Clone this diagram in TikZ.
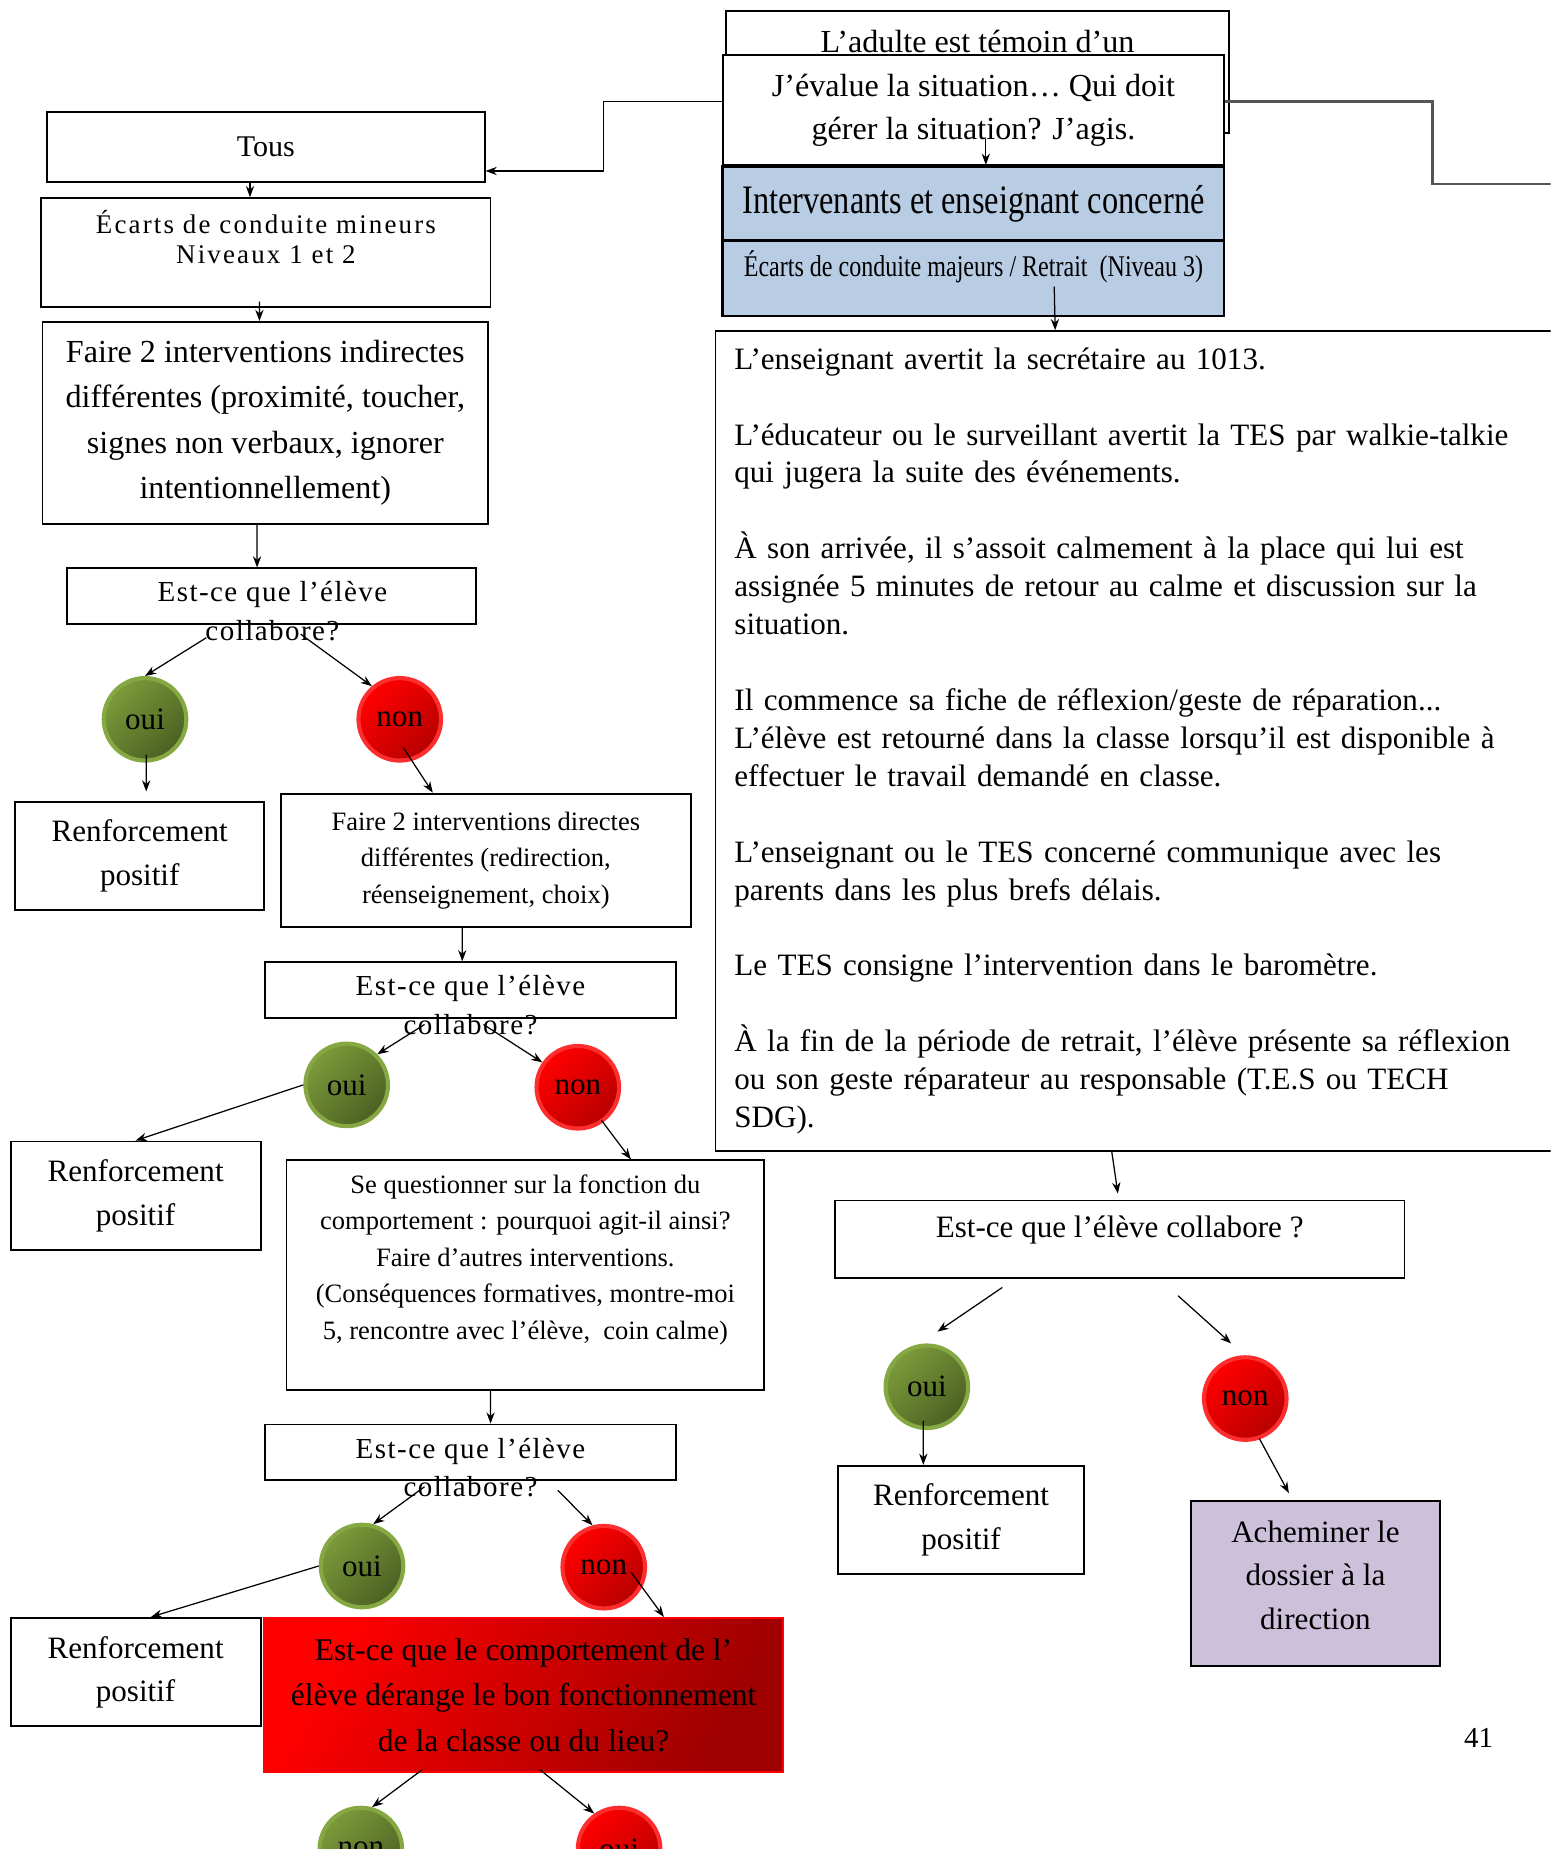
\documentclass[tikz,border=0pt]{standalone}
\usepackage{fontspec}
\setmainfont{Liberation Serif}
\newfontfamily\etroite[FakeStretch=0.8]{Liberation Serif}
\newfontfamily\espacee[LetterSpace=5]{Liberation Serif}
\newfontfamily\tresespacee[LetterSpace=8]{Liberation Serif}
\usetikzlibrary{arrows.meta}

\definecolor{bleuPale}{HTML}{B8CCE4}
\definecolor{lavande}{HTML}{CCC0DA}
\definecolor{vertClair}{HTML}{7C9B3A}
\definecolor{vertFonce}{HTML}{4B6023}
\definecolor{vertBord}{HTML}{86A843}
\definecolor{rougeClair}{HTML}{FF0000}
\definecolor{rougeFonce}{HTML}{B80000}
\definecolor{rougeBord}{HTML}{FF2E2E}
\definecolor{rougeBoite}{HTML}{9E0000}
\definecolor{gris}{HTML}{555555}

\begin{document}
\begin{tikzpicture}[x=0.2mm, y=-0.2mm,
    boite/.style={draw=black, line width=0.9pt, fill=white, inner sep=1mm, align=center, font=\fontsize{15}{21}\selectfont},
    bleue/.style={boite, fill=bleuPale, line width=1.4pt, minimum width=85mm},
    question/.style={boite, minimum width=69.6mm, minimum height=9.4mm},
    questionT/.style={align=center, font=\espacee\fontsize{14}{18.7}\selectfont},
    renfort/.style={boite, minimum width=42.2mm, minimum height=18.4mm},
    fleche/.style={-{Stealth[length=1.9mm,width=1.4mm]}, line width=0.6pt},
    pastilleVerte/.style={circle, minimum size=14mm, inner sep=0pt, draw=vertBord, line width=0.7mm, top color=vertClair, bottom color=vertFonce, shading angle=45, font=\fontsize{15}{18}\selectfont},
    pastilleRouge/.style={circle, minimum size=14mm, inner sep=0pt, draw=rougeBord, line width=0.7mm, top color=rougeClair, bottom color=rougeFonce, shading angle=45, font=\fontsize{15}{18}\selectfont}
  ]
  \clip (0,0) rectangle (1315,1568);

  % cadres du haut
  \node[boite, minimum width=85.2mm, minimum height=20.8mm] (adulte) at (829,61) {};
  \node[font=\fontsize{15.5}{18}\selectfont] (adulteT) at (829,35) {L’adulte est témoin d’un};
  \node[boite, minimum width=85mm, minimum height=18.6mm, font=\fontsize{15.5}{21}\selectfont] (jeval) at (825.5,93.5) {J’évalue la situation… Qui doit\\gérer la situation? J’agis.};
  \node[bleue, minimum height=12.6mm, font=\etroite\fontsize{19.5}{22}\selectfont] (interv) at (825.5,172.5) {Intervenants et enseignant concerné};
  \node[bleue, minimum height=12.8mm, text depth=4.9mm, font=\etroite\fontsize{14.5}{17}\selectfont] (majeurs) at (825.5,236) {Écarts de conduite majeurs / Retrait~~(Niveau 3)};

  % colonne de gauche
  \node[boite, minimum width=74.2mm, minimum height=11.8mm, font=\fontsize{14.5}{18}\selectfont] (tous) at (225.5,124.5) {Tous};
  \node[boite, minimum width=76.2mm, minimum height=18.4mm, font=\tresespacee\fontsize{13}{14.7}\selectfont] (mineurs) at (225.5,214) {Écarts de conduite mineurs\\Niveaux 1 et 2\\\mbox{}};
  \node[boite, minimum width=75.6mm, minimum height=34.2mm, font=\fontsize{15.5}{22}\selectfont] (indir) at (225,358.5) {Faire 2 interventions indirectes\\différentes (proximité, toucher,\\signes non verbaux, ignorer\\intentionnellement)};

  \node[question, minimum width=69.4mm] (collab1) at (230.5,505.5) {};
  \node[questionT] (collab1T) at (231,518.5) {Est-ce que l’élève\\collabore?};
  \node[pastilleVerte] (oui1) at (123,610) {oui};
  \node[pastilleRouge] (non1) at (339,610) {non};
  \node[renfort] (renf1) at (118.5,726) {Renforcement\\positif};
  \node[boite, minimum width=69.6mm, minimum height=22.6mm, font=\fontsize{12.8}{17.6}\selectfont] (direct) at (412,729.5) {Faire 2 interventions directes\\différentes (redirection,\\réenseignement, choix)};

  \node[question] (collab2) at (399,839.5) {};
  \node[questionT] (collab2T) at (399,852.5) {Est-ce que l’élève\\collabore?};
  \node[pastilleVerte] (oui2) at (294,920) {oui};
  \node[pastilleRouge] (non2) at (490,922) {non};
  \node[renfort, minimum width=42.4mm] (renf2) at (115,1014) {Renforcement\\positif};
  \node[boite, minimum width=81mm, minimum height=39mm, font=\fontsize{12.8}{17.6}\selectfont] (quest) at (445.5,1081.5) {Se questionner sur la fonction du\\comportement : pourquoi agit-il ainsi?\\Faire d’autres interventions.\\(Conséquences formatives, montre-moi\\5, rencontre avec l’élève,~ coin calme)\\\mbox{}};

  \node[question] (collab3) at (399,1231.5) {};
  \node[questionT] (collab3T) at (399,1244.5) {Est-ce que l’élève\\collabore?};
  \node[pastilleVerte] (oui3) at (307,1328) {oui};
  \node[pastilleRouge] (non3) at (512,1329) {non};
  \node[renfort, minimum width=42.4mm] (renf3) at (115,1418) {Renforcement\\positif};
  \node[boite, draw=red, top color=rougeClair, bottom color=rougeBoite, shading angle=60, minimum width=88mm, minimum height=26.2mm, font=\fontsize{15.2}{22}\selectfont] (derange) at (444,1437.5) {Est-ce que le comportement de l’\\élève dérange le bon fonctionnement\\de la classe ou du lieu?};
  \node[pastilleVerte] (nonBas) at (306,1568) {non};
  \node[pastilleRouge] (ouiBas) at (525,1568) {oui};

  % colonne de droite
  \node[boite, anchor=north west, minimum height=139mm, text width=150mm, inner xsep=3.2mm, inner ysep=0pt, align=left, font=\fontsize{15}{18.3}\selectfont] (consignes) at (606,280) {L’enseignant avertit la secrétaire au 1013.\\[18.3pt]
    L’éducateur ou le surveillant avertit la TES par walkie-talkie\\
    qui jugera la suite des événements.\\[18.3pt]
    À son arrivée, il s’assoit calmement à la place qui lui est\\
    assignée 5 minutes de retour au calme et discussion sur la\\
    situation.\\[18.3pt]
    Il commence sa fiche de réflexion/geste de réparation...\\
    L’élève est retourné dans la classe lorsqu’il est disponible à\\
    effectuer le travail demandé en classe.\\[18.3pt]
    L’enseignant ou le TES concerné communique avec les\\
    parents dans les plus brefs délais.\\[18.3pt]
    Le TES consigne l’intervention dans le baromètre.\\[18.3pt]
    À la fin de la période de retrait, l’élève présente sa réflexion\\
    ou son geste réparateur au responsable (T.E.S ou TECH\\
    SDG).};
  \node[boite, minimum width=96.6mm, minimum height=13.2mm, text depth=4.4mm] (collabD) at (949.5,1051) {Est-ce que l’élève collabore ?};
  \node[pastilleVerte] (ouiD) at (786,1176) {oui};
  \node[pastilleRouge] (nonD) at (1056,1186) {non};
  \node[renfort, minimum width=41.6mm] (renfD) at (815,1289) {Renforcement\\positif};
  \node[boite, fill=lavande, minimum width=42.2mm, minimum height=28mm] (achem) at (1115.5,1343) {Acheminer le\\dossier à la\\direction\\[-12.8pt]\mbox{}};

  \node[font=\fontsize{14}{16}\selectfont] (page) at (1254,1474) {41};

  % liaisons du haut
  \coordinate (coudeG) at (512,115);
  \coordinate (coudeD) at (1215,120);
  \coordinate (sortieD) at (1330,156);
  \draw[fleche] ([yshift=1.5mm]jeval.west) -| (coudeG) |- ([yshift=-4.1mm]tous.east);
  \draw[gris, line width=1.4pt] ([yshift=1.5mm]jeval.east) -| (coudeD) |- (sortieD);
  \draw[fleche] ([xshift=2.1mm,yshift=4.6mm]jeval.south) -- ([xshift=2.1mm]interv.north);
  \draw[fleche] ([xshift=13.7mm,yshift=-1.4mm]majeurs.center) -- ([xshift=-20.6mm]consignes.north);

  % liaisons de gauche
  \draw[fleche] ([xshift=-2.7mm]tous.south) -- ([xshift=-2.7mm]mineurs.north);
  \draw[fleche] ([xshift=-1.1mm,yshift=1mm]mineurs.south) -- ([xshift=-1mm]indir.north);
  \draw[fleche] ([xshift=-1.4mm]indir.south) -- ([xshift=-2.5mm]collab1.north);
  \draw[fleche] ([xshift=-11.1mm,yshift=-2.2mm]collab1.south) -- (oui1.north);
  \draw[fleche] ([xshift=4.9mm,yshift=-1.6mm]collab1.south) -- (non1.130);
  \draw[fleche] ([xshift=0.2mm,yshift=-6mm]oui1.center) -- ([xshift=1.1mm,yshift=1.6mm]renf1.north);
  \draw[fleche] ([xshift=0.6mm,yshift=-4.8mm]non1.center) -- ([xshift=-9mm]direct.north);
  \draw[fleche] ([xshift=-4mm]direct.south) -- ([xshift=-1.4mm]collab2.north);
  \draw[fleche] ([xshift=-7.8mm,yshift=-1mm]collab2.south) -- (oui2.45);
  \draw[fleche] ([xshift=2.2mm,yshift=-1mm]collab2.south) -- (non2.145);
  \draw[fleche] (oui2.west) -- (renf2.north);
  \draw[fleche] ([xshift=4mm,yshift=-5.6mm]non2.center) -- ([xshift=17.9mm]quest.north);
  \draw[fleche] ([xshift=-5.9mm]quest.south) -- ([xshift=3.4mm]collab3.north);
  \draw[fleche] ([xshift=-7.8mm,yshift=-1mm]collab3.south) -- (oui3.75);
  \draw[fleche] ([xshift=14.8mm,yshift=-1.6mm]collab3.south) -- (non3.105);
  \draw[fleche] (oui3.west) -- ([xshift=2.6mm]renf3.north);
  \draw[fleche] ([xshift=4.6mm,yshift=-0.8mm]non3.center) -- ([xshift=23.8mm]derange.north);
  \draw[fleche] ([xshift=-17.2mm,yshift=0.6mm]derange.south) -- (nonBas.75);
  \draw[fleche] ([xshift=2.8mm,yshift=0.6mm]derange.south) -- (ouiBas.125);

  % liaisons de droite
  \draw[fleche] ([xshift=-11mm]consignes.south) -- ([xshift=-0.3mm,yshift=1mm]collabD.north);
  \draw[fleche] ([xshift=-19.9mm,yshift=-1.4mm]collabD.south) -- ([xshift=1.8mm,yshift=2mm]ouiD.north);
  \draw[fleche] ([xshift=9.9mm,yshift=-2.8mm]collabD.south) -- ([xshift=-2.4mm,yshift=2mm]nonD.north);
  \draw[fleche] ([xshift=-0.6mm,yshift=-5.8mm]ouiD.center) -- ([xshift=-6.4mm]renfD.north);
  \draw[fleche] ([xshift=2.4mm,yshift=-6.8mm]nonD.center) -- ([xshift=-4.5mm,yshift=1.2mm]achem.north);
\end{tikzpicture}
\end{document}
